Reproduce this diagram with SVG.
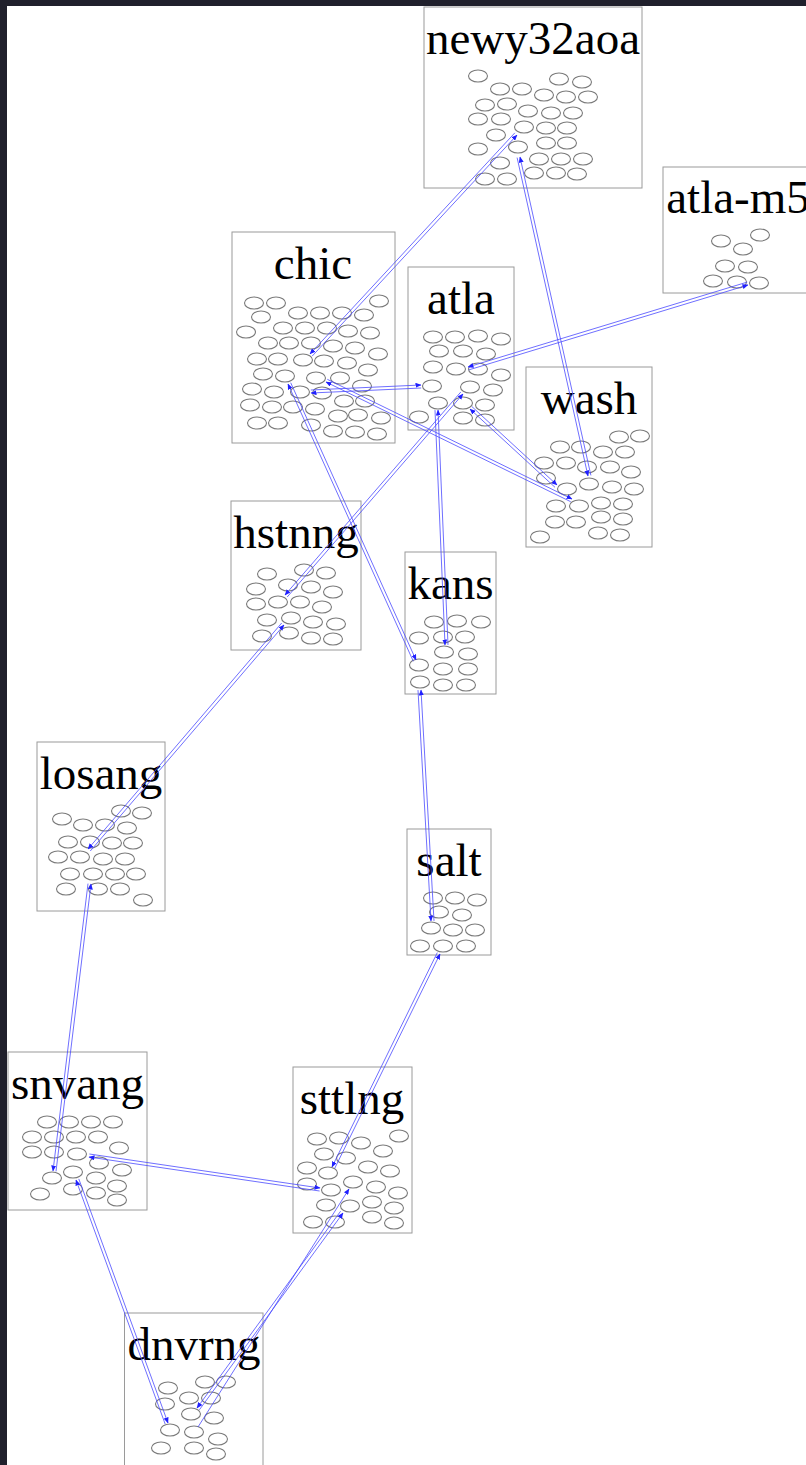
<svg xmlns="http://www.w3.org/2000/svg" width="806" height="1465" viewBox="0 0 806 1465">
<style>
.box{fill:#fff;stroke:#9a9a9a;stroke-width:1}
.lbl{font-family:"Liberation Serif","Times New Roman",serif;font-size:47px;fill:#000;text-anchor:middle}
.n ellipse{fill:none;stroke:#7a7a7a;stroke-width:1.1}
.e path{fill:none;stroke:#4a4aff;stroke-width:0.8;marker-end:url(#ah)}
</style>
<defs>
<marker id="ah" markerUnits="userSpaceOnUse" markerWidth="6" markerHeight="5" refX="5.5" refY="2.5" orient="auto"><path d="M0,0 L6,2.5 L0,5 z" fill="#2020ff"/></marker>
</defs>
<rect x="0" y="0" width="806" height="1465" fill="#20202c"/>
<rect x="7" y="6" width="799" height="1459" fill="#fff"/>

<g id="newy32aoa" class="n">
<rect class="box" x="424" y="7" width="218" height="181"/>
<text class="lbl" x="533" y="54">newy32aoa</text>
<ellipse cx="478" cy="76" rx="9.5" ry="6"/><ellipse cx="559" cy="79" rx="9.5" ry="6"/><ellipse cx="582" cy="82" rx="9.5" ry="6"/>
<ellipse cx="500" cy="89" rx="9.5" ry="6"/><ellipse cx="522" cy="89" rx="9.5" ry="6"/><ellipse cx="544" cy="95" rx="9.5" ry="6"/><ellipse cx="566" cy="97" rx="9.5" ry="6"/><ellipse cx="588" cy="97" rx="9.5" ry="6"/>
<ellipse cx="485" cy="105" rx="9.5" ry="6"/><ellipse cx="507" cy="104" rx="9.5" ry="6"/><ellipse cx="528" cy="111" rx="9.5" ry="6"/><ellipse cx="551" cy="113" rx="9.5" ry="6"/><ellipse cx="573" cy="113" rx="9.5" ry="6"/>
<ellipse cx="478" cy="119" rx="9.5" ry="6"/><ellipse cx="501" cy="119" rx="9.5" ry="6"/><ellipse cx="524" cy="127" rx="9.5" ry="6"/><ellipse cx="546" cy="128" rx="9.5" ry="6"/><ellipse cx="567" cy="128" rx="9.5" ry="6"/>
<ellipse cx="496" cy="135" rx="9.5" ry="6"/><ellipse cx="546" cy="143" rx="9.5" ry="6"/><ellipse cx="567" cy="143" rx="9.5" ry="6"/>
<ellipse cx="478" cy="149" rx="9.5" ry="6"/><ellipse cx="518" cy="147" rx="9.5" ry="6"/><ellipse cx="539" cy="159" rx="9.5" ry="6"/><ellipse cx="561" cy="159" rx="9.5" ry="6"/><ellipse cx="583" cy="159" rx="9.5" ry="6"/>
<ellipse cx="500" cy="163" rx="9.5" ry="6"/><ellipse cx="485" cy="179" rx="9.5" ry="6"/><ellipse cx="507" cy="179" rx="9.5" ry="6"/><ellipse cx="534" cy="173" rx="9.5" ry="6"/><ellipse cx="556" cy="173" rx="9.5" ry="6"/><ellipse cx="577" cy="174" rx="9.5" ry="6"/>
</g>

<g id="atla-m5" class="n">
<rect class="box" x="663" y="167" width="150" height="126"/>
<text class="lbl" x="738" y="213">atla-m5</text>
<ellipse cx="721" cy="241" rx="9.5" ry="6"/><ellipse cx="760" cy="235" rx="9.5" ry="6"/><ellipse cx="743" cy="249" rx="9.5" ry="6"/>
<ellipse cx="725" cy="266" rx="9.5" ry="6"/><ellipse cx="748" cy="267" rx="9.5" ry="6"/>
<ellipse cx="713" cy="281" rx="9.5" ry="6"/><ellipse cx="737" cy="282" rx="9.5" ry="6"/><ellipse cx="759" cy="283" rx="9.5" ry="6"/>
</g>

<g id="chic" class="n">
<rect class="box" x="232" y="232" width="163" height="211"/>
<text class="lbl" x="313" y="279">chic</text>
<ellipse cx="254" cy="303" rx="9.5" ry="6"/><ellipse cx="276" cy="303" rx="9.5" ry="6"/><ellipse cx="379" cy="301" rx="9.5" ry="6"/>
<ellipse cx="261" cy="317" rx="9.5" ry="6"/><ellipse cx="298" cy="313" rx="9.5" ry="6"/><ellipse cx="320" cy="313" rx="9.5" ry="6"/><ellipse cx="342" cy="313" rx="9.5" ry="6"/><ellipse cx="364" cy="315" rx="9.5" ry="6"/>
<ellipse cx="246" cy="332" rx="9.5" ry="6"/><ellipse cx="283" cy="328" rx="9.5" ry="6"/><ellipse cx="305" cy="328" rx="9.5" ry="6"/><ellipse cx="327" cy="328" rx="9.5" ry="6"/><ellipse cx="348" cy="331" rx="9.5" ry="6"/><ellipse cx="370" cy="333" rx="9.5" ry="6"/>
<ellipse cx="268" cy="343" rx="9.5" ry="6"/><ellipse cx="289" cy="343" rx="9.5" ry="6"/><ellipse cx="311" cy="343" rx="9.5" ry="6"/><ellipse cx="333" cy="346" rx="9.5" ry="6"/><ellipse cx="355" cy="348" rx="9.5" ry="6"/>
<ellipse cx="257" cy="359" rx="9.5" ry="6"/><ellipse cx="278" cy="359" rx="9.5" ry="6"/><ellipse cx="303" cy="360" rx="9.5" ry="6"/><ellipse cx="324" cy="361" rx="9.5" ry="6"/><ellipse cx="347" cy="363" rx="9.5" ry="6"/><ellipse cx="378" cy="354" rx="9.5" ry="6"/>
<ellipse cx="263" cy="374" rx="9.5" ry="6"/><ellipse cx="285" cy="376" rx="9.5" ry="6"/><ellipse cx="316" cy="378" rx="9.5" ry="6"/><ellipse cx="340" cy="378" rx="9.5" ry="6"/><ellipse cx="368" cy="370" rx="9.5" ry="6"/>
<ellipse cx="252" cy="389" rx="9.5" ry="6"/><ellipse cx="274" cy="392" rx="9.5" ry="6"/><ellipse cx="300" cy="392" rx="9.5" ry="6"/><ellipse cx="322" cy="393" rx="9.5" ry="6"/><ellipse cx="362" cy="386" rx="9.5" ry="6"/>
<ellipse cx="250" cy="405" rx="9.5" ry="6"/><ellipse cx="272" cy="407" rx="9.5" ry="6"/><ellipse cx="293" cy="407" rx="9.5" ry="6"/><ellipse cx="315" cy="409" rx="9.5" ry="6"/><ellipse cx="344" cy="401" rx="9.5" ry="6"/><ellipse cx="365" cy="401" rx="9.5" ry="6"/>
<ellipse cx="338" cy="416" rx="9.5" ry="6"/><ellipse cx="358" cy="415" rx="9.5" ry="6"/><ellipse cx="381" cy="418" rx="9.5" ry="6"/>
<ellipse cx="257" cy="423" rx="9.5" ry="6"/><ellipse cx="278" cy="423" rx="9.5" ry="6"/><ellipse cx="311" cy="425" rx="9.5" ry="6"/><ellipse cx="333" cy="431" rx="9.5" ry="6"/><ellipse cx="355" cy="432" rx="9.5" ry="6"/><ellipse cx="377" cy="434" rx="9.5" ry="6"/>
</g>

<g id="atla" class="n">
<rect class="box" x="408" y="267" width="106" height="163"/>
<text class="lbl" x="461" y="314">atla</text>
<ellipse cx="433" cy="337" rx="9.5" ry="6"/><ellipse cx="455" cy="337" rx="9.5" ry="6"/><ellipse cx="478" cy="336" rx="9.5" ry="6"/><ellipse cx="501" cy="339" rx="9.5" ry="6"/>
<ellipse cx="439" cy="351" rx="9.5" ry="6"/><ellipse cx="463" cy="351" rx="9.5" ry="6"/><ellipse cx="486" cy="354" rx="9.5" ry="6"/>
<ellipse cx="433" cy="367" rx="9.5" ry="6"/><ellipse cx="456" cy="369" rx="9.5" ry="6"/><ellipse cx="478" cy="369" rx="9.5" ry="6"/><ellipse cx="501" cy="375" rx="9.5" ry="6"/>
<ellipse cx="432" cy="386" rx="9.5" ry="6"/><ellipse cx="470" cy="387" rx="9.5" ry="6"/><ellipse cx="493" cy="390" rx="9.5" ry="6"/>
<ellipse cx="438" cy="403" rx="9.5" ry="6"/><ellipse cx="463" cy="403" rx="9.5" ry="6"/><ellipse cx="485" cy="405" rx="9.5" ry="6"/>
<ellipse cx="419" cy="417" rx="9.5" ry="6"/><ellipse cx="463" cy="418" rx="9.5" ry="6"/><ellipse cx="485" cy="420" rx="9.5" ry="6"/>
</g>

<g id="wash" class="n">
<rect class="box" x="526" y="367" width="126" height="180"/>
<text class="lbl" x="589" y="414">wash</text>
<ellipse cx="619" cy="437" rx="9.5" ry="6"/><ellipse cx="640" cy="436" rx="9.5" ry="6"/>
<ellipse cx="560" cy="447" rx="9.5" ry="6"/><ellipse cx="581" cy="447" rx="9.5" ry="6"/><ellipse cx="603" cy="452" rx="9.5" ry="6"/><ellipse cx="625" cy="452" rx="9.5" ry="6"/>
<ellipse cx="544" cy="463" rx="9.5" ry="6"/><ellipse cx="566" cy="463" rx="9.5" ry="6"/><ellipse cx="587" cy="467" rx="9.5" ry="6"/><ellipse cx="610" cy="467" rx="9.5" ry="6"/><ellipse cx="631" cy="472" rx="9.5" ry="6"/>
<ellipse cx="546" cy="478" rx="9.5" ry="6"/><ellipse cx="567" cy="489" rx="9.5" ry="6"/><ellipse cx="589" cy="484" rx="9.5" ry="6"/><ellipse cx="612" cy="487" rx="9.5" ry="6"/><ellipse cx="634" cy="489" rx="9.5" ry="6"/>
<ellipse cx="556" cy="506" rx="9.5" ry="6"/><ellipse cx="579" cy="506" rx="9.5" ry="6"/><ellipse cx="601" cy="503" rx="9.5" ry="6"/><ellipse cx="623" cy="504" rx="9.5" ry="6"/>
<ellipse cx="555" cy="522" rx="9.5" ry="6"/><ellipse cx="576" cy="522" rx="9.5" ry="6"/><ellipse cx="601" cy="517" rx="9.5" ry="6"/><ellipse cx="623" cy="519" rx="9.5" ry="6"/>
<ellipse cx="540" cy="537" rx="9.5" ry="6"/><ellipse cx="598" cy="533" rx="9.5" ry="6"/><ellipse cx="620" cy="535" rx="9.5" ry="6"/>
</g>

<g id="hstnng" class="n">
<rect class="box" x="231" y="501" width="130" height="149"/>
<text class="lbl" x="296" y="548">hstnng</text>
<ellipse cx="267" cy="574" rx="9.5" ry="6"/><ellipse cx="304" cy="570" rx="9.5" ry="6"/><ellipse cx="326" cy="573" rx="9.5" ry="6"/>
<ellipse cx="256" cy="589" rx="9.5" ry="6"/><ellipse cx="288" cy="585" rx="9.5" ry="6"/><ellipse cx="311" cy="587" rx="9.5" ry="6"/><ellipse cx="333" cy="592" rx="9.5" ry="6"/>
<ellipse cx="256" cy="604" rx="9.5" ry="6"/><ellipse cx="278" cy="602" rx="9.5" ry="6"/><ellipse cx="300" cy="602" rx="9.5" ry="6"/><ellipse cx="322" cy="607" rx="9.5" ry="6"/>
<ellipse cx="267" cy="620" rx="9.5" ry="6"/><ellipse cx="291" cy="618" rx="9.5" ry="6"/><ellipse cx="313" cy="622" rx="9.5" ry="6"/><ellipse cx="336" cy="624" rx="9.5" ry="6"/>
<ellipse cx="262" cy="636" rx="9.5" ry="6"/><ellipse cx="289" cy="633" rx="9.5" ry="6"/><ellipse cx="311" cy="638" rx="9.5" ry="6"/><ellipse cx="333" cy="639" rx="9.5" ry="6"/>
</g>

<g id="kans" class="n">
<rect class="box" x="405" y="552" width="91" height="142"/>
<text class="lbl" x="450.5" y="599">kans</text>
<ellipse cx="434" cy="622" rx="9.5" ry="6"/><ellipse cx="457" cy="621" rx="9.5" ry="6"/><ellipse cx="481" cy="622" rx="9.5" ry="6"/>
<ellipse cx="419" cy="638" rx="9.5" ry="6"/><ellipse cx="443" cy="637" rx="9.5" ry="6"/><ellipse cx="465" cy="637" rx="9.5" ry="6"/>
<ellipse cx="444" cy="652" rx="9.5" ry="6"/><ellipse cx="468" cy="654" rx="9.5" ry="6"/>
<ellipse cx="419" cy="665" rx="9.5" ry="6"/><ellipse cx="443" cy="669" rx="9.5" ry="6"/><ellipse cx="468" cy="669" rx="9.5" ry="6"/>
<ellipse cx="420" cy="682" rx="9.5" ry="6"/><ellipse cx="443" cy="685" rx="9.5" ry="6"/><ellipse cx="466" cy="685" rx="9.5" ry="6"/>
</g>

<g id="losang" class="n">
<rect class="box" x="37" y="742" width="128" height="169"/>
<text class="lbl" x="101" y="789">losang</text>
<ellipse cx="121" cy="811" rx="9.5" ry="6"/><ellipse cx="142" cy="813" rx="9.5" ry="6"/>
<ellipse cx="62" cy="819" rx="9.5" ry="6"/><ellipse cx="83" cy="825" rx="9.5" ry="6"/><ellipse cx="105" cy="825" rx="9.5" ry="6"/><ellipse cx="127" cy="828" rx="9.5" ry="6"/>
<ellipse cx="68" cy="842" rx="9.5" ry="6"/><ellipse cx="90" cy="842" rx="9.5" ry="6"/><ellipse cx="112" cy="843" rx="9.5" ry="6"/><ellipse cx="133" cy="843" rx="9.5" ry="6"/>
<ellipse cx="58" cy="857" rx="9.5" ry="6"/><ellipse cx="80" cy="857" rx="9.5" ry="6"/><ellipse cx="103" cy="859" rx="9.5" ry="6"/><ellipse cx="125" cy="859" rx="9.5" ry="6"/>
<ellipse cx="70" cy="874" rx="9.5" ry="6"/><ellipse cx="93" cy="874" rx="9.5" ry="6"/><ellipse cx="115" cy="874" rx="9.5" ry="6"/><ellipse cx="136" cy="874" rx="9.5" ry="6"/>
<ellipse cx="66" cy="889" rx="9.5" ry="6"/><ellipse cx="98" cy="889" rx="9.5" ry="6"/><ellipse cx="120" cy="889" rx="9.5" ry="6"/>
<ellipse cx="143" cy="900" rx="9.5" ry="6"/>
</g>

<g id="salt" class="n">
<rect class="box" x="407" y="829" width="84" height="126"/>
<text class="lbl" x="449" y="876">salt</text>
<ellipse cx="433" cy="898" rx="9.5" ry="6"/><ellipse cx="455" cy="898" rx="9.5" ry="6"/><ellipse cx="477" cy="900" rx="9.5" ry="6"/>
<ellipse cx="439" cy="912" rx="9.5" ry="6"/><ellipse cx="462" cy="915" rx="9.5" ry="6"/>
<ellipse cx="431" cy="928" rx="9.5" ry="6"/><ellipse cx="453" cy="930" rx="9.5" ry="6"/><ellipse cx="475" cy="930" rx="9.5" ry="6"/>
<ellipse cx="420" cy="946" rx="9.5" ry="6"/><ellipse cx="443" cy="946" rx="9.5" ry="6"/><ellipse cx="466" cy="946" rx="9.5" ry="6"/>
</g>

<g id="snvang" class="n">
<rect class="box" x="8" y="1052" width="139" height="158"/>
<text class="lbl" x="77.5" y="1099">snvang</text>
<ellipse cx="47" cy="1122" rx="9.5" ry="6"/><ellipse cx="69" cy="1122" rx="9.5" ry="6"/><ellipse cx="91" cy="1122" rx="9.5" ry="6"/><ellipse cx="113" cy="1122" rx="9.5" ry="6"/>
<ellipse cx="32" cy="1137" rx="9.5" ry="6"/><ellipse cx="54" cy="1137" rx="9.5" ry="6"/><ellipse cx="76" cy="1137" rx="9.5" ry="6"/><ellipse cx="98" cy="1137" rx="9.5" ry="6"/>
<ellipse cx="32" cy="1152" rx="9.5" ry="6"/><ellipse cx="54" cy="1152" rx="9.5" ry="6"/><ellipse cx="77" cy="1154" rx="9.5" ry="6"/><ellipse cx="119" cy="1148" rx="9.5" ry="6"/>
<ellipse cx="99" cy="1163" rx="9.5" ry="6"/><ellipse cx="122" cy="1170" rx="9.5" ry="6"/><ellipse cx="73" cy="1172" rx="9.5" ry="6"/>
<ellipse cx="52" cy="1178" rx="9.5" ry="6"/><ellipse cx="96" cy="1178" rx="9.5" ry="6"/><ellipse cx="117" cy="1186" rx="9.5" ry="6"/>
<ellipse cx="73" cy="1189" rx="9.5" ry="6"/><ellipse cx="96" cy="1193" rx="9.5" ry="6"/><ellipse cx="40" cy="1194" rx="9.5" ry="6"/><ellipse cx="117" cy="1200" rx="9.5" ry="6"/>
</g>

<g id="sttlng" class="n">
<rect class="box" x="293" y="1067" width="119" height="166"/>
<text class="lbl" x="352" y="1114">sttlng</text>
<ellipse cx="317" cy="1139" rx="9.5" ry="6"/><ellipse cx="339" cy="1138" rx="9.5" ry="6"/><ellipse cx="361" cy="1143" rx="9.5" ry="6"/><ellipse cx="399" cy="1136" rx="9.5" ry="6"/>
<ellipse cx="324" cy="1154" rx="9.5" ry="6"/><ellipse cx="346" cy="1158" rx="9.5" ry="6"/><ellipse cx="383" cy="1151" rx="9.5" ry="6"/>
<ellipse cx="307" cy="1168" rx="9.5" ry="6"/><ellipse cx="328" cy="1173" rx="9.5" ry="6"/><ellipse cx="368" cy="1167" rx="9.5" ry="6"/><ellipse cx="390" cy="1171" rx="9.5" ry="6"/>
<ellipse cx="307" cy="1184" rx="9.5" ry="6"/><ellipse cx="331" cy="1190" rx="9.5" ry="6"/><ellipse cx="353" cy="1182" rx="9.5" ry="6"/><ellipse cx="376" cy="1187" rx="9.5" ry="6"/><ellipse cx="398" cy="1193" rx="9.5" ry="6"/>
<ellipse cx="326" cy="1205" rx="9.5" ry="6"/><ellipse cx="350" cy="1206" rx="9.5" ry="6"/><ellipse cx="372" cy="1202" rx="9.5" ry="6"/><ellipse cx="394" cy="1208" rx="9.5" ry="6"/>
<ellipse cx="313" cy="1222" rx="9.5" ry="6"/><ellipse cx="335" cy="1222" rx="9.5" ry="6"/><ellipse cx="372" cy="1217" rx="9.5" ry="6"/><ellipse cx="394" cy="1223" rx="9.5" ry="6"/>
</g>

<g id="dnvrng" class="n">
<rect class="box" x="124.5" y="1313" width="138.5" height="170"/>
<text class="lbl" x="194" y="1360">dnvrng</text>
<ellipse cx="205" cy="1382" rx="9.5" ry="6"/><ellipse cx="226" cy="1382" rx="9.5" ry="6"/>
<ellipse cx="168" cy="1388" rx="9.5" ry="6"/><ellipse cx="189" cy="1398" rx="9.5" ry="6"/><ellipse cx="211" cy="1398" rx="9.5" ry="6"/>
<ellipse cx="165" cy="1404" rx="9.5" ry="6"/><ellipse cx="191" cy="1414" rx="9.5" ry="6"/><ellipse cx="214" cy="1418" rx="9.5" ry="6"/>
<ellipse cx="170" cy="1430" rx="9.5" ry="6"/><ellipse cx="194" cy="1432" rx="9.5" ry="6"/><ellipse cx="218" cy="1439" rx="9.5" ry="6"/>
<ellipse cx="161" cy="1448" rx="9.5" ry="6"/><ellipse cx="194" cy="1448" rx="9.5" ry="6"/><ellipse cx="216" cy="1454" rx="9.5" ry="6"/>
</g>

<g id="connectors" class="e">
<path d="M312.2,356.1 L517,135"/><path d="M514.8,132.9 L310,354"/>
<path d="M590.9,475.4 L520,157"/><path d="M517.1,157.6 L588,476"/>
<path d="M468.8,369.9 L748,285"/><path d="M747.2,282.1 L468,367"/>
<path d="M421.2,388 L311,393"/><path d="M310.8,390 L421,385"/>
<path d="M570.7,501.7 L326,382"/><path d="M327.3,379.3 L572,499"/>
<path d="M555,487.3 L470,409"/><path d="M472,406.7 L557,485"/>
<path d="M413.3,661.3 L288,384"/><path d="M290.7,382.7 L416,660"/>
<path d="M287.2,597 L463,394"/><path d="M460.8,392 L285,595"/>
<path d="M448,644.9 L438,410"/><path d="M435,410.1 L445,645"/>
<path d="M90.3,851 L284,625"/><path d="M281.7,623 L88,849"/>
<path d="M434,920.9 L421,690"/><path d="M418,690.1 L431,921"/>
<path d="M56,1171.4 L91,884"/><path d="M88,883.6 L53,1171"/>
<path d="M334.7,1168.4 L440,954"/><path d="M437.3,952.6 L332,1167"/>
<path d="M319.6,1191 L89,1157"/><path d="M89.4,1154 L320,1188"/>
<path d="M165.2,1424.1 L76,1180"/><path d="M78.8,1178.9 L168,1423"/>
<path d="M199.4,1409.8 L343,1213"/><path d="M340.6,1211.2 L197,1408"/>
<path d="M198,1427 L349,1189"/>
</g>
</svg>
